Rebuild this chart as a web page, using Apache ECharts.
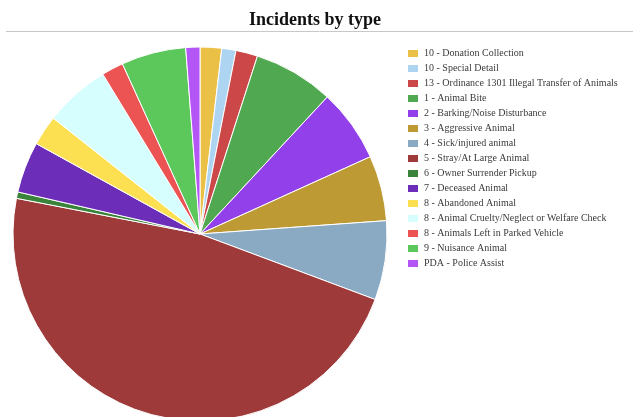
<!DOCTYPE html>
<html><head><meta charset="utf-8">
<script src="https://cdn.jsdelivr.net/npm/echarts@6/dist/echarts.min.js"></script>
<style>html,body{margin:0;padding:0;background:#fff}#c{width:637px;height:417px}</style>
</head><body><div id="c"></div>
<script>
const categories = ["10 - Donation Collection","10 - Special Detail","13 - Ordinance 1301 Illegal Transfer of Animals","1 - Animal Bite","2 - Barking/Noise Disturbance","3 - Aggressive Animal","4 - Sick/injured animal","5 - Stray/At Large Animal","6 - Owner Surrender Pickup","7 - Deceased Animal","8 - Abandoned Animal","8 - Animal Cruelty/Neglect or Welfare Check","8 - Animals Left in Parked Vehicle","9 - Nuisance Animal","PDA - Police Assist"];
const values = [6.7,4.4,6.8,25,22.7,20.3,24.6,170.5,2,15.9,9.4,20.4,6.8,20.1,4.4];
const colors = ["#EBC046","#ADD5F2","#CC4848","#50A850","#9140EA","#BE9A34","#8AAAC4","#9E3A3A","#3A833A","#6C2EB8","#FCE052","#D6FEFE","#EC5454","#5CC85C","#B455F5"];
const chart = echarts.init(document.getElementById('c'), null, {renderer:'canvas'});
chart.setOption({
  animation:false,
  color: colors,
  title:{text:"Incidents by type", left:244, top:6, textStyle:{fontFamily:'Liberation Serif', fontSize:18, fontWeight:'bold', color:'#111'}},
  graphic:[{type:'line', shape:{x1:6,y1:31.5,x2:633,y2:31.5}, style:{stroke:'#c8c8c8', lineWidth:1}}],
  legend:{orient:'vertical', left:406, top:48, padding:0, itemWidth:12, itemHeight:9, itemGap:4, icon:'rect',
    textStyle:{fontFamily:'Liberation Serif', fontSize:10, color:'#3a3a3a'},
    data:categories},
  series:[{type:'pie', center:[200,234], radius:187, startAngle:90, clockwise:true,
    label:{show:false}, labelLine:{show:false},
    itemStyle:{borderColor:'#fff', borderWidth:1},
    emphasis:{disabled:true},
    data: categories.map((n,i)=>({name:n, value:values[i]}))}]
});
</script></body></html>
